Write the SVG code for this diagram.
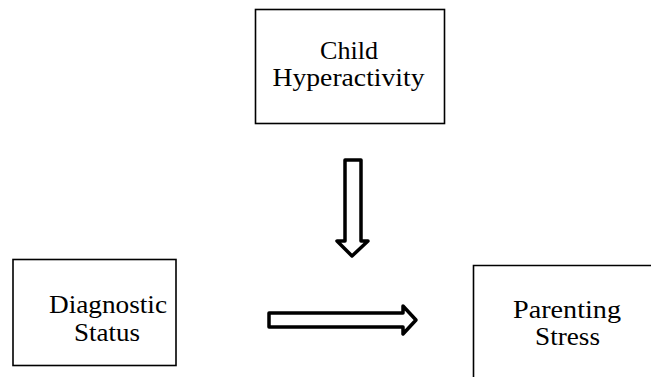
<svg xmlns="http://www.w3.org/2000/svg" width="651" height="377" viewBox="0 0 651 377">
<style>
.box{fill:#fff;stroke:#000;stroke-width:1.6}
.lbl{font-family:"Liberation Serif","Times New Roman",serif;font-size:26px;fill:#000;text-anchor:middle}
.arr{fill:#fff;stroke:#000;stroke-width:3.5;stroke-linejoin:round}
</style>
<rect width="651" height="377" fill="#fff"/>
<g id="child-hyperactivity">
<rect class="box" x="255.5" y="9.5" width="189" height="114"/>
<text class="lbl" x="349" y="59" textLength="58" lengthAdjust="spacingAndGlyphs">Child</text>
<text class="lbl" x="348.5" y="86" textLength="152" lengthAdjust="spacingAndGlyphs">Hyperactivity</text>
</g>
<g id="diagnostic-status">
<rect class="box" x="13" y="259.5" width="163" height="106"/>
<text class="lbl" x="108" y="313" textLength="118" lengthAdjust="spacingAndGlyphs">Diagnostic</text>
<text class="lbl" x="107" y="341" textLength="66" lengthAdjust="spacingAndGlyphs">Status</text>
</g>
<g id="parenting-stress">
<path class="box" d="M473.5 380 V265.5 H655"/>
<text class="lbl" x="567" y="318" textLength="108" lengthAdjust="spacingAndGlyphs">Parenting</text>
<text class="lbl" x="567.5" y="345" textLength="65" lengthAdjust="spacingAndGlyphs">Stress</text>
</g>
<g id="connectors">
<polygon class="arr" points="345,160 361,160 361,241 368,241 352,256 337,241 345,241"/>
<polygon class="arr" points="269,313 403,313 403,306 416,320 403,334 403,327 269,327"/>
</g>
</svg>
